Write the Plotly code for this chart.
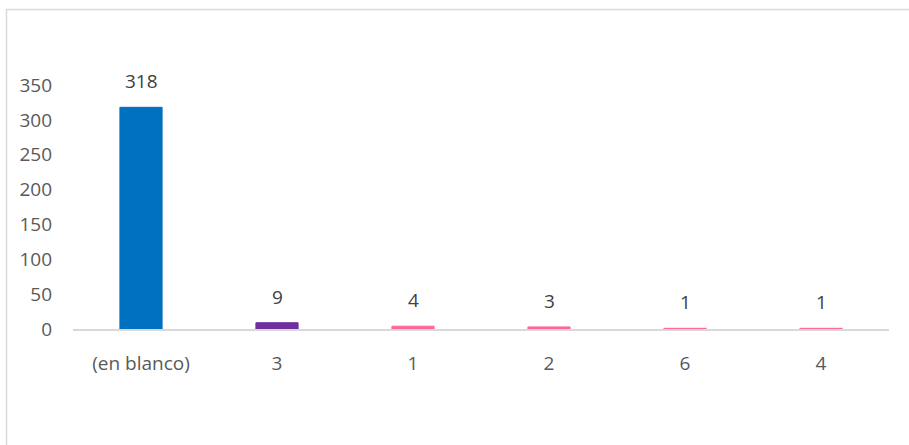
import plotly.graph_objects as go

categories = ["(en blanco)", "3", "1", "2", "6", "4"]
values = [318, 9, 4, 3, 1, 1]
colors = ["#0070C0", "#7030A0", "#FF6699", "#FF6699", "#FF6699", "#FF6699"]
y_ticks = [0, 50, 100, 150, 200, 250, 300, 350]

W, H = 909, 445
ml, mr, mt, mb = 73, 20, 85, 116
pw, ph = W - ml - mr, H - mt - mb

fig = go.Figure()
fig.add_trace(go.Bar(
    x=categories, y=values,
    marker=dict(color=colors, line=dict(color=colors, width=1.0)),
    width=0.31,
    hoverinfo="x+y",
))

font = dict(family="Open Sans, sans-serif", size=19, color="#595959")
for i, v in enumerate(values):
    fig.add_annotation(x=i, y=v, text=str(v), showarrow=False,
                       yanchor="bottom", yshift=11, font=dict(font, color="#404040"))

def px_to_paper_x(px):
    return (px - ml) / pw

def px_to_paper_y(py):
    return (H - mb - py) / ph

fig.add_shape(type="rect", xref="paper", yref="paper",
              x0=px_to_paper_x(6.5), x1=px_to_paper_x(W + 10),
              y0=px_to_paper_y(H + 10), y1=px_to_paper_y(9.5),
              line=dict(color="#D9D9D9", width=1.5), layer="below")

fig.update_layout(
    width=W, height=H,
    margin=dict(l=ml, r=mr, t=mt, b=mb),
    plot_bgcolor="white", paper_bgcolor="white",
    font=font,
    showlegend=False,
)
fig.update_xaxes(type="category", showline=True, linecolor="#D9D9D9", linewidth=1.5,
                 showgrid=False, zeroline=False, ticks="", ticklabelstandoff=16,
                 tickfont=font)
fig.update_yaxes(range=[0, 350], tickvals=y_ticks, showgrid=False,
                 zeroline=False, showline=False, ticks="", ticklabelstandoff=20,
                 tickfont=font)

fig.write_html("out.html")
